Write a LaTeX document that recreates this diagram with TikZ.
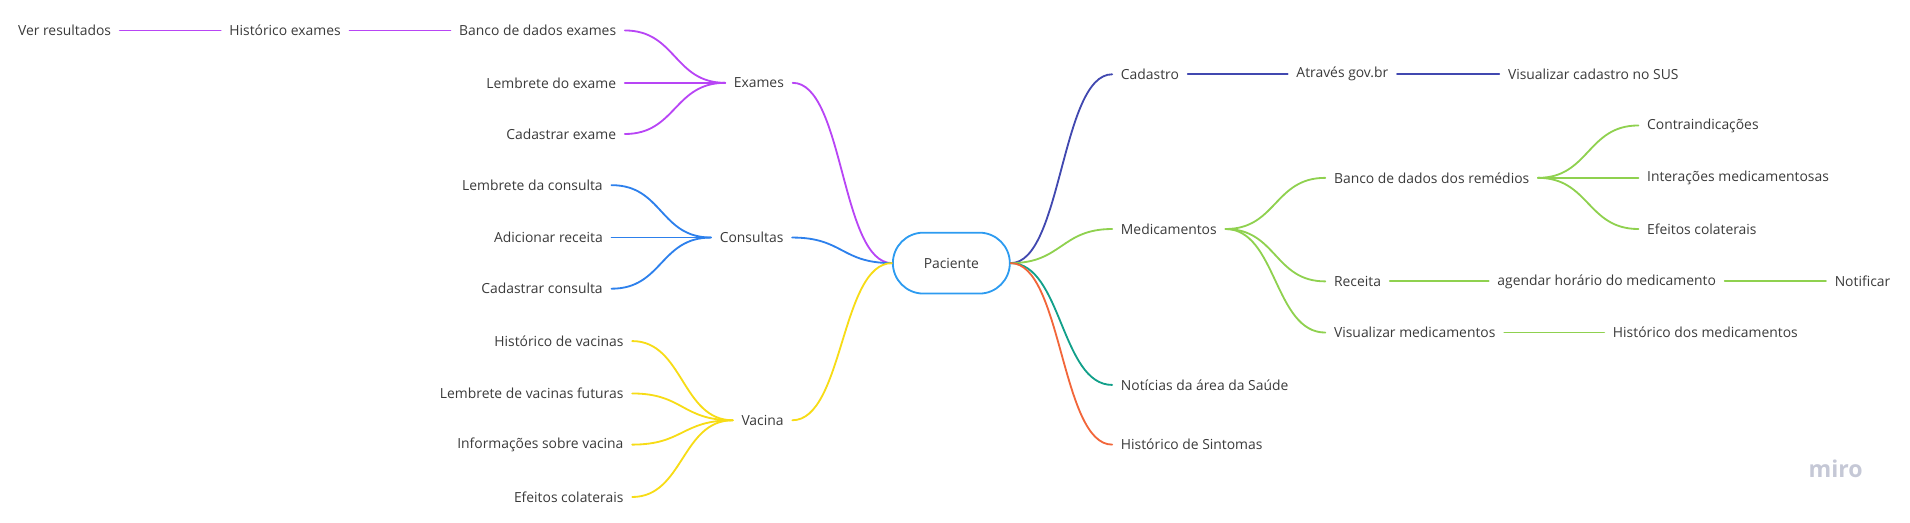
\documentclass[tikz,border=0pt]{standalone}
\usepackage{fontspec}
\setmainfont{Open Sans}
\usepackage{tikz}
\usetikzlibrary{calc}
\definecolor{textgray}{HTML}{3A3A3A}
\definecolor{roxo}{HTML}{B845F5}
\definecolor{azul}{HTML}{2D80EC}
\definecolor{azulclaro}{HTML}{2D9BF0}
\definecolor{amarelo}{HTML}{F7DC16}
\definecolor{anil}{HTML}{4148B0}
\definecolor{verde}{HTML}{8FD14F}
\definecolor{teal}{HTML}{12A08A}
\definecolor{laranja}{HTML}{F2663A}
\definecolor{marca}{HTML}{C5C8D6}
\tikzstyle{topico}=[inner xsep=7pt,inner ysep=3pt,text=textgray,font=\fontsize{11.4}{13}\selectfont]
\tikzstyle{ramo}=[line width=1.5pt,line cap=round]

\begin{document}
\begin{tikzpicture}[x=1pt,y=-1pt]
        \useasboundingbox (0,0) rectangle (1568,429);

        \node[draw=azulclaro,line width=1.5pt,rounded corners=25pt,minimum width=96pt,
          minimum height=50pt,text=textgray,font=\fontsize{11.4}{13}\selectfont] (p) at (781,216) {Paciente};

        % lado esquerdo
        \foreach \n/\t/\x/\y/\c in {ex/Exames/623/68/roxo,co/Consultas/617/195/azul,va/Vacina/626/345/amarelo}{
          \node[topico] (\n) at (\x,\y) {\t};
          \draw[ramo,\c] (p.west) .. controls +(-42,0) and +(42,0) .. (\n.east);
        }

        \foreach \i/\t/\y in {1/Banco de dados exames/25,2/Lembrete do exame/68,3/Cadastrar exame/110}{
          \node[topico,anchor=east] (ex\i) at (513,\y) {\t};
          \draw[ramo,roxo] (ex.west) .. controls +(-42,0) and +(42,0) .. (ex\i.east);
        }
        \node[topico] (ex4) at (234,25) {Histórico exames};
        \node[topico] (ex5) at (53,25) {Ver resultados};
        \draw[ramo,roxo] (ex1) -- (ex4);
        \draw[ramo,roxo] (ex4) -- (ex5);

        \foreach \i/\t/\y in {1/Lembrete da consulta/152,2/Adicionar receita/195,3/Cadastrar consulta/237}{
          \node[topico,anchor=east] (co\i) at (502,\y) {\t};
          \draw[ramo,azul] (co.west) .. controls +(-42,0) and +(42,0) .. (co\i.east);
        }

        \foreach \i/\t/\y in {1/Histórico de vacinas/280,2/Lembrete de vacinas futuras/323,
          3/Informações sobre vacina/365,4/Efeitos colaterais/408}{
          \node[topico,anchor=east] (va\i) at (519,\y) {\t};
          \draw[ramo,amarelo] (va.west) .. controls +(-42,0) and +(42,0) .. (va\i.east);
        }

        % lado direito
        \foreach \n/\t/\y/\c in {ca/Cadastro/61/anil,me/Medicamentos/188/verde,
          no/Notícias da área da Saúde/316/teal,si/Histórico de Sintomas/365/laranja}{
          \node[topico,anchor=west] (\n) at (913,\y) {\t};
          \draw[ramo,\c] (p.east) .. controls +(42,0) and +(-42,0) .. (\n.west);
        }

        \node[topico] (ca1) at (1102,61) {Através gov.br};
        \node[topico] (ca2) at (1308,61) {Visualizar cadastro no SUS};
        \draw[ramo,anil] (ca) -- (ca1);
        \draw[ramo,anil] (ca1) -- (ca2);

        \foreach \i/\t/\y in {1/Banco de dados dos remédios/146,2/Receita/231,3/Visualizar medicamentos/273}{
          \node[topico,anchor=west] (me\i) at (1088,\y) {\t};
          \draw[ramo,verde] (me.east) .. controls +(42,0) and +(-42,0) .. (me\i.west);
        }
        \foreach \j/\t/\y in {1/Contraindicações/103,2/Interações medicamentosas/146,3/Efeitos colaterais/188}{
          \node[topico,anchor=west] (me1\j) at (1345,\y) {\t};
          \draw[ramo,verde] (me1.east) .. controls +(42,0) and +(-42,0) .. (me1\j.west);
        }
        \node[topico] (me21) at (1319,231) {agendar horário do medicamento};
        \node[topico] (me22) at (1529,231) {Notificar};
        \draw[ramo,verde] (me2) -- (me21);
        \draw[ramo,verde] (me21) -- (me22);
        \node[topico] (me31) at (1400,273) {Histórico dos medicamentos};
        \draw[ramo,verde] (me3) -- (me31);

        \node[text=marca,font=\fontsize{19}{20}\selectfont\bfseries] (miro) at (1507,385) {miro};
      \end{tikzpicture}
\end{document}
